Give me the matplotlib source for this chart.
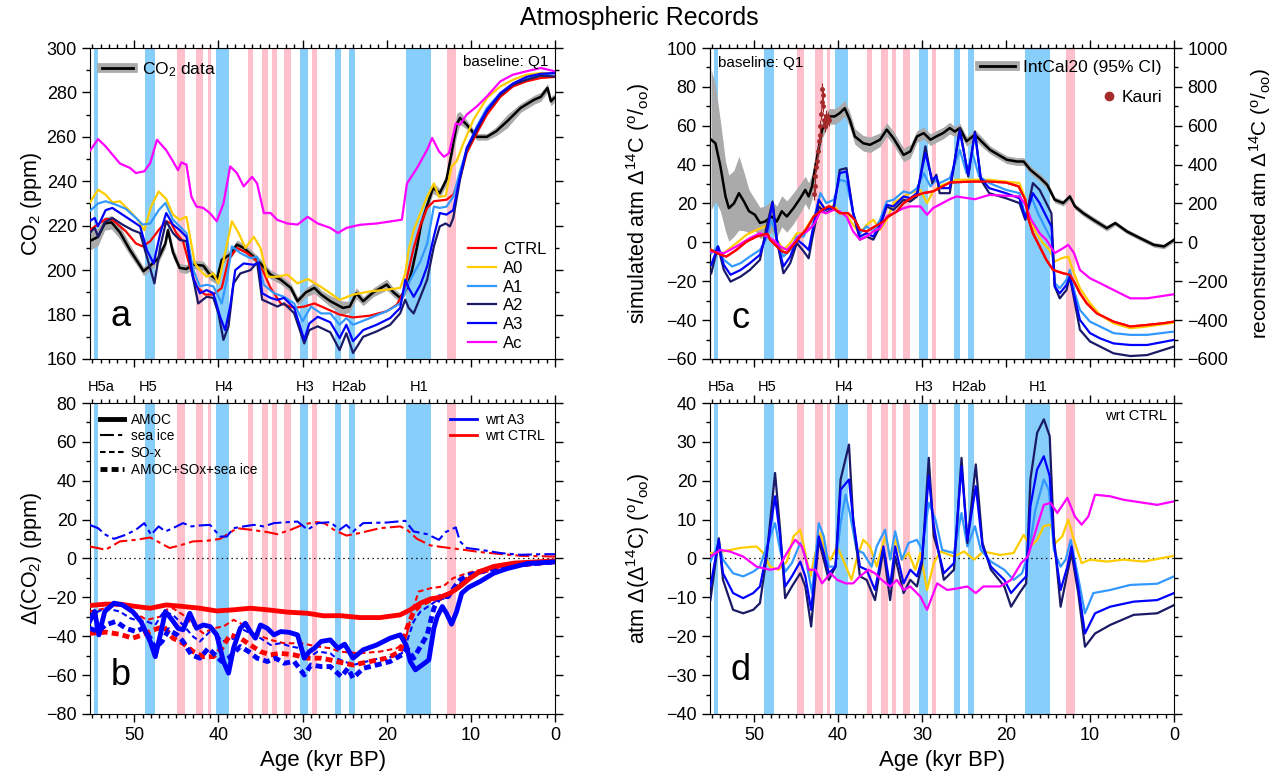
import matplotlib
matplotlib.use('Agg')
import matplotlib.pyplot as plt
from matplotlib.lines import Line2D
from matplotlib.ticker import MultipleLocator
import numpy as np

plt.rcParams['font.family'] = ['Liberation Sans', 'DejaVu Sans']
plt.rcParams['mathtext.default'] = 'regular'
plt.rcParams['lines.scale_dashes'] = False

# ---- event bands (kyr BP, start, end) ----
hs_bands = [(54.73, 54.33), (48.77, 47.58), (40.32, 38.77), (30.32, 29.33),
            (26.15, 25.44), (24.49, 23.81), (17.70, 14.73)]
pink_bands = [(44.88, 44.01), (42.70, 41.83), (41.27, 40.92), (36.51, 35.92),
              (34.85, 34.10), (33.62, 33.06), (32.26, 31.43), (28.86, 28.30),
              (12.82, 11.75)]
heinrich = [(53.9, 'H5a'), (48.4, 'H5'), (39.3, 'H4'), (29.7, 'H3'), (24.4, 'H2ab'), (16.2, 'H1')]

# ---- panel a: atmospheric CO2 (ppm) ----
co2_data = [(55.3, 213, 4), (54.3, 215, 4), (53.5, 221, 3), (52.7, 221.5, 3), (51.7, 217, 3),
            (50.5, 209, 2.5), (49.3, 202, 2), (48.9, 199.5, 2), (48.1, 202, 2), (47.1, 205.5, 2),
            (46.3, 212, 2), (46.0, 218, 2.5), (45.4, 208, 2.5), (44.6, 201, 2), (43.8, 200.5, 2),
            (43.0, 202.5, 2), (41.8, 202, 2), (41.0, 198, 2.5), (40.2, 195.7, 2), (39.6, 204.7, 2),
            (38.6, 207, 2), (37.8, 211.5, 2), (37.0, 210, 2), (35.8, 206, 2), (35.0, 203, 2),
            (33.8, 198, 2), (32.6, 195.7, 2), (31.4, 192, 2), (30.6, 186, 2), (29.6, 190, 2),
            (28.6, 192, 2.5), (27.8, 189, 2), (26.7, 186, 2.5), (25.2, 183, 3), (24.4, 183.6, 2.5),
            (23.6, 189.6, 2.5), (22.8, 186, 2), (21.6, 190, 2), (20.0, 193.5, 2.5), (19.2, 190, 2),
            (18.4, 187.5, 2), (17.6, 192, 2), (17.0, 200, 2), (16.4, 210.5, 2), (15.9, 221, 2),
            (15.3, 228, 2), (14.5, 237, 2.5), (13.7, 234.7, 2), (12.9, 240.8, 2.5), (12.3, 252.7, 3),
            (11.7, 265.5, 5), (11.3, 268.5, 3), (10.5, 265.5, 2), (9.3, 260, 1.5), (8.1, 260, 1.5),
            (7.0, 262.5, 2), (5.7, 267, 3), (4.1, 273, 2), (2.5, 276.7, 2), (1.7, 278, 2),
            (0.9, 282, 2), (0.5, 276, 2), (0.1, 277.5, 2)]

a_ctrl = [(55.3, 218), (53.4, 223), (52.6, 222.7), (51.0, 217.5), (49.8, 212), (49.0, 210.7),
          (48.1, 213), (47.1, 218), (46.2, 222), (45.6, 221), (45.0, 216.7), (44.2, 213),
          (43.4, 201.7), (42.6, 192.7), (41.6, 189), (40.6, 189), (39.6, 192), (38.8, 204.7),
          (37.8, 210), (36.6, 207.7), (35.4, 204), (34.6, 198.7), (33.8, 192), (32.6, 185),
          (31.0, 183), (29.8, 183.6), (28.6, 185), (27.4, 183), (25.6, 180), (24.0, 178.7),
          (22.0, 179.5), (20.0, 181.5), (18.8, 184.4), (18.0, 190), (17.4, 200), (16.8, 210),
          (16.0, 220.4), (15.2, 228), (14.4, 231), (12.9, 231.7), (12.1, 234), (11.3, 241.4),
          (10.5, 252.7), (9.3, 261.7), (8.1, 270), (6.5, 278), (5.0, 282.7), (3.4, 285),
          (1.7, 286.5), (0.0, 287)]
a_a0 = [(55.3, 230.2), (54.3, 236.2), (53.4, 234), (52.6, 230.5), (51.7, 231), (50.5, 226.5),
        (49.6, 222.7), (48.8, 218), (48.0, 228.6), (47.1, 235.4), (46.2, 232), (45.4, 225),
        (44.6, 222.7), (43.8, 224), (42.8, 203), (42.2, 200), (41.4, 197), (40.6, 198.5),
        (40.0, 194), (39.2, 207.7), (38.4, 222), (37.6, 216.7), (36.8, 210), (35.8, 215),
        (35.0, 210), (34.2, 197), (33.0, 197), (31.8, 198), (30.6, 194), (29.4, 196),
        (28.2, 193.4), (26.7, 189.6), (25.6, 186.6), (24.0, 189), (22.0, 190.4), (20.0, 191.2),
        (18.4, 192), (17.8, 198.5), (17.4, 209), (16.8, 218), (16.0, 225.6), (15.2, 233),
        (14.4, 239), (13.8, 233), (13.0, 233.4), (12.3, 246.7), (11.7, 249), (10.9, 257),
        (9.7, 267.7), (8.1, 277.5), (6.5, 282.7), (5.0, 285.7), (3.4, 288), (1.7, 288.7), (0.0, 288.7)]
a_a1 = [(55.3, 226.5), (54.3, 230), (53.4, 231), (52.2, 229.5), (51.0, 227.6), (49.8, 223.5),
        (49.0, 220.5), (48.1, 221), (47.1, 227), (46.3, 230.2), (45.4, 222.7), (44.6, 219.7),
        (43.8, 216.7), (43.0, 200.2), (42.2, 192.7), (41.4, 193.4), (40.6, 192.7), (39.6, 185),
        (39.0, 195.7), (38.4, 210.7), (37.4, 207.7), (36.2, 205.4), (35.4, 206), (34.6, 193.4),
        (33.4, 189.6), (32.2, 188), (31.0, 185), (30.0, 177), (29.0, 183.6), (27.8, 180.5),
        (26.7, 180.5), (25.6, 175.4), (24.8, 178.4), (24.0, 175.4), (22.0, 178.4), (20.0, 181.5),
        (18.4, 185), (17.6, 192.6), (16.8, 198.5), (16.0, 204), (15.2, 212), (14.4, 228.6),
        (13.7, 228), (12.9, 228.6), (12.1, 233), (11.3, 244.5), (10.5, 254), (9.3, 264.7),
        (8.1, 273), (6.5, 279.7), (5.0, 284), (3.4, 286.5), (1.7, 288), (0.0, 288.7)]
a_a2 = [(55.3, 216.7), (54.7, 219), (54.3, 215), (53.5, 221.5), (52.6, 223.5), (51.4, 220.5),
        (50.2, 218), (49.3, 216.7), (48.5, 206), (47.6, 194), (46.9, 210.7), (46.2, 222),
        (45.4, 216.7), (44.6, 213.6), (43.8, 213), (43.2, 200), (42.4, 185), (41.4, 188),
        (40.6, 187.5), (40.0, 180.5), (39.4, 168.6), (38.8, 174.7), (38.2, 194), (37.4, 198.5),
        (36.2, 200), (35.4, 203.4), (34.8, 186.7), (33.8, 185), (33.0, 183.6), (32.2, 185),
        (31.0, 180.6), (29.8, 167), (29.2, 173), (28.2, 174.7), (26.7, 172), (25.6, 164),
        (24.8, 171.6), (24.0, 162.7), (22.8, 170), (21.2, 172.4), (19.6, 175.4), (18.4, 180.6),
        (17.8, 186.7), (17.4, 183), (16.8, 180.5), (16.0, 188), (15.2, 195.7), (14.4, 210.7),
        (13.7, 219.7), (13.0, 221), (12.5, 219.7), (12.1, 223.4), (11.3, 240.7), (10.5, 254),
        (9.3, 263), (8.1, 271.5), (6.5, 279), (5.0, 283.5), (3.4, 285.7), (1.7, 287.5), (0.0, 287.2)]
a_a3 = [(55.3, 222), (54.7, 223.5), (54.3, 219.7), (53.4, 227), (52.6, 228), (51.4, 225),
        (50.2, 222), (49.3, 219.7), (48.5, 209), (47.7, 203), (46.9, 216.7), (46.2, 225.7),
        (45.4, 220.5), (44.6, 218), (43.8, 215), (43.0, 196.4), (42.2, 189.6), (41.4, 191),
        (40.6, 189.6), (39.8, 179), (39.2, 173), (38.6, 183.6), (38.0, 200), (37.0, 203),
        (35.8, 202.4), (35.2, 203.4), (34.8, 189.6), (33.8, 187.5), (33.0, 186.6), (32.2, 187.5),
        (31.0, 183), (29.8, 168.6), (29.2, 176), (28.2, 179), (26.7, 176.5), (25.6, 169.4),
        (24.8, 175.4), (24.0, 168), (22.8, 173), (21.2, 175.4), (19.6, 178.4), (18.4, 183),
        (17.8, 195.7), (17.4, 192), (16.8, 188), (16.0, 193.4), (15.2, 201.7), (14.4, 215.2),
        (13.7, 225.7), (12.9, 225), (12.1, 227), (11.3, 242), (10.5, 255), (9.3, 264),
        (8.1, 272), (6.5, 279.7), (5.0, 284), (3.4, 287), (1.7, 288.4), (0.0, 288.7)]
a_ac = [(55.3, 253.5), (54.3, 259), (53.4, 255.7), (51.7, 248), (50.5, 246), (49.8, 243.7),
        (48.8, 244.5), (48.1, 248.2), (47.3, 258.7), (46.2, 254), (45.4, 249), (44.8, 245),
        (44.4, 248.5), (43.8, 247.5), (43.2, 233), (42.6, 228.6), (41.8, 228), (41.0, 225.6),
        (40.2, 222), (39.4, 230), (38.6, 246.7), (37.8, 243.7), (37.0, 237.7), (36.0, 242),
        (35.4, 239), (34.6, 225.7), (33.8, 225.7), (33.0, 222.6), (31.8, 221), (30.6, 220.5),
        (29.4, 224), (28.2, 221), (26.7, 219), (25.8, 216.7), (24.8, 219), (23.2, 220.4),
        (21.2, 221), (18.2, 222.7), (17.6, 239), (16.4, 246), (15.2, 254.2), (14.6, 259.5),
        (13.8, 253.5), (13.2, 251), (12.6, 252.7), (11.8, 266), (11.3, 265.5), (10.5, 270),
        (9.3, 273.7), (8.1, 278.2), (6.5, 285), (5.0, 288), (3.4, 289.5), (1.7, 291), (0.0, 289.5)]

# ---- panel b: CO2 anomalies (ppm) ----
b_amoc_a3 = [(55.3, -32.4), (54.7, -27.3), (54.2, -39.3), (53.5, -27.3), (52.4, -23), (51.4, -23.9),
             (50.2, -27.3), (49.2, -32.4), (48.1, -42.7), (47.5, -50.5), (46.9, -39.3), (46.3, -27.3),
             (45.5, -31.6), (44.8, -35.9), (44.2, -36.7), (43.4, -28.2), (42.6, -35.9), (41.8, -34.2),
             (41.0, -35), (40.2, -39.3), (39.4, -53), (38.8, -59), (38.2, -46.1), (37.4, -35.9),
             (36.8, -33.3), (36.2, -37.6), (35.6, -41), (35.0, -34.2), (34.2, -35.9), (33.4, -39.3),
             (32.6, -37.6), (31.6, -38), (30.6, -39.3), (29.8, -51.3), (29.2, -47.9), (28.6, -46.2),
             (27.8, -42.7), (26.7, -41.9), (25.8, -46.2), (25.0, -44.1), (24.0, -51.3), (22.8, -47),
             (21.2, -44.5), (19.6, -41), (18.4, -39.3), (17.7, -44.5), (17.2, -53), (16.6, -57.3),
             (15.8, -54.8), (15.0, -52.2), (14.4, -35.9), (14.0, -29.9), (13.4, -24.7), (12.9, -28.2),
             (12.3, -33.8), (11.7, -27.3), (11.1, -17.9), (10.3, -14.9), (8.9, -11.8), (7.3, -7.6),
             (5.7, -5.2), (3.3, -2.6), (0.0, -1.7)]
b_amoc_ctrl = [(55.3, -24.2), (53.4, -23.5), (51.7, -23.5), (49.8, -24.7), (48.1, -25.6), (46.2, -23.9),
               (44.2, -24.7), (42.2, -25.6), (40.2, -27), (38.2, -26.4), (36.2, -25.6), (34.2, -26.4),
               (31.8, -27.6), (29.4, -28.2), (27.5, -29.5), (25.6, -29.4), (23.2, -30.4), (20.8, -30.4),
               (18.4, -29), (17.2, -26.4), (16.0, -23), (14.8, -20.8), (13.7, -20), (12.5, -17.9),
               (11.3, -14.4), (10.1, -10.1), (8.9, -6.7), (7.3, -4.1), (4.9, -2.4), (0.0, -1.2)]
b_seaice_a3 = [(55.3, 17.3), (54.3, 15.6), (53.4, 12.2), (52.4, 10.1), (51.0, 12.2), (49.8, 14.8),
               (48.8, 18.2), (48.0, 12.2), (47.1, 16.5), (46.3, 13.9), (45.4, 15.6), (44.2, 18.2),
               (43.2, 16.5), (42.2, 17), (41.0, 17.3), (39.8, 11.3), (39.0, 11.3), (38.2, 15.6),
               (37.0, 16.5), (35.8, 17.3), (34.6, 16.5), (33.4, 18.2), (31.8, 18.7), (30.6, 19),
               (29.4, 14.8), (28.2, 18.2), (26.7, 18.7), (25.6, 14.8), (24.8, 17.3), (24.0, 13.9),
               (22.8, 18.2), (20.0, 18.5), (17.8, 19.4), (16.8, 13.9), (15.2, 12.5), (13.8, 9.6),
               (13.0, 13.6), (11.8, 16), (11.3, 8.8), (10.5, 5.4), (8.9, 4.5), (6.5, 2.8),
               (4.1, 1.9), (1.7, 2.2), (0.0, 2.2)]
b_seaice_ctrl = [(55.3, 6.2), (53.4, 4.5), (51.7, 8.8), (49.8, 9.6), (48.1, 10.8), (46.9, 8),
                 (45.8, 5.4), (44.6, 6.7), (43.0, 8.8), (41.4, 9.1), (39.8, 10.1), (39.0, 12.2),
                 (37.8, 15.6), (36.2, 14.8), (34.2, 13.6), (33.0, 12.5), (31.4, 14.8), (29.8, 17.7),
                 (28.2, 18.7), (27.3, 17.9), (26.3, 14.8), (24.8, 11.8), (23.2, 13.1), (20.8, 15.6),
                 (18.4, 16.5), (17.6, 14.8), (16.4, 10.1), (14.8, 6.7), (12.9, 5.6), (10.9, 4.5),
                 (8.9, 3.3), (6.5, 2.3), (4.1, 1.4), (0.0, 1)]
b_sox_a3 = [(55.3, -30.7), (54.3, -27.3), (53.4, -25.6), (51.7, -27.3), (50.5, -30.7), (49.3, -32.4),
            (48.5, -32.4), (47.5, -34.2), (46.5, -27.3), (45.4, -29), (44.2, -34.2), (43.0, -40.2),
            (42.2, -42.7), (41.4, -39.3), (40.6, -35.9), (39.6, -42.7), (38.8, -41.9), (38.0, -41),
            (37.4, -35.9), (36.2, -38.5), (35.0, -41), (33.8, -44.5), (32.6, -43.6), (31.4, -45.3),
            (30.2, -46.2), (29.4, -51.3), (28.2, -47.9), (26.7, -48.8), (26.0, -51.3), (24.0, -54.8),
            (22.4, -53), (20.8, -51.3), (19.2, -50.5), (18.2, -48.8), (17.6, -42.7), (16.8, -32.4),
            (16.0, -27.3), (14.8, -23.9), (14.0, -21.3), (12.9, -20.4), (12.1, -15.3), (11.3, -12.8),
            (10.1, -9.4), (8.1, -6), (5.7, -3.3), (0.0, -1.2)]
b_sox_ctrl = [(55.3, -27.3), (53.4, -25.6), (51.7, -23.9), (50.2, -27.3), (48.5, -31.6), (46.9, -29.9),
              (46.2, -26.4), (45.4, -25.6), (44.2, -29), (43.0, -34.2), (41.8, -38.5), (40.6, -35.9),
              (39.4, -35), (38.2, -31.6), (37.0, -34.2), (35.4, -39.3), (33.8, -41.9), (32.2, -43.6),
              (30.2, -43.6), (28.2, -45.3), (26.7, -46.2), (25.6, -47.9), (23.2, -48.8), (20.8, -47.9),
              (18.8, -46.2), (17.8, -42.7), (17.0, -27.3), (16.2, -17), (14.8, -15.3), (13.3, -14.4),
              (12.1, -10.1), (10.5, -7.6), (8.1, -5), (4.1, -2.9), (0.0, -1.2)]
b_all_a3 = [(55.3, -35.9), (54.3, -37.6), (53.4, -34.2), (52.2, -32.4), (51.0, -35.9), (49.8, -37.6),
            (49.0, -35.9), (48.1, -41), (47.5, -46.2), (46.7, -42.7), (45.9, -36.7), (44.9, -39.3),
            (44.2, -42.7), (43.2, -49.6), (42.2, -51.3), (41.2, -46.2), (40.4, -49.6), (39.6, -53),
            (38.8, -51.3), (38.0, -47.9), (37.4, -45.3), (36.4, -47.9), (35.4, -51.3), (34.2, -53),
            (33.2, -51.3), (32.2, -53.9), (31.0, -53), (29.8, -59.9), (29.0, -54.8), (27.8, -55.6),
            (26.7, -55.6), (25.4, -60.8), (24.6, -56.5), (24.0, -61.6), (22.8, -56.5), (21.2, -54.8),
            (19.6, -53), (18.2, -49.6), (17.6, -46.2), (16.8, -51.3), (16.0, -45.3), (15.2, -39.3),
            (14.4, -25.6), (13.7, -19.6), (12.7, -19.6), (11.9, -14.4), (11.3, -11), (10.1, -8.4),
            (8.1, -6), (5.7, -3.8), (0.0, -1.7)]
b_all_ctrl = [(55.3, -38.5), (53.4, -37.9), (51.7, -39), (50.2, -41), (49.0, -39.3), (47.7, -36.7),
              (46.5, -35), (45.4, -41), (44.2, -43.6), (43.0, -47.9), (41.8, -50.5), (40.6, -50.5),
              (39.6, -46.2), (38.6, -39.3), (37.4, -41), (36.2, -44.5), (35.0, -47.9), (33.8, -49.6),
              (32.6, -48.8), (31.0, -49.6), (29.4, -51.3), (27.8, -51.3), (26.7, -52.2), (26.0, -53),
              (24.0, -54.8), (22.0, -53), (20.0, -51.3), (18.4, -47.9), (17.6, -35.9), (16.8, -27.3),
              (16.0, -23.9), (14.8, -21.3), (13.3, -20.4), (12.1, -17), (10.9, -11.8), (9.3, -7.6),
              (6.5, -4.1), (0.0, -1.7)]

# ---- panel c: atmospheric D14C (permil) ----
intcal20 = [(55.1, 528, 360), (54.6, 510, 300), (54.0, 390, 230), (53.4, 236, 180), (53.0, 176, 170),
            (52.4, 200, 170), (51.8, 253, 190), (51.2, 210, 150), (50.6, 160, 110), (49.9, 142, 80),
            (49.3, 100, 80), (48.7, 107, 80), (47.9, 133, 80), (47.3, 107, 80), (46.7, 160, 80),
            (46.1, 133, 80), (45.3, 176, 80), (44.5, 227, 75), (43.9, 270, 70), (43.5, 236, 70),
            (43.1, 288, 65), (42.7, 390, 60), (41.9, 580, 45), (41.1, 648, 40), (40.4, 648, 40),
            (39.8, 665, 40), (39.2, 690, 40), (38.6, 630, 40), (38.0, 545, 40), (37.0, 510, 40),
            (36.2, 502, 40), (35.0, 528, 35), (34.2, 580, 35), (33.4, 536, 35), (32.2, 450, 35),
            (31.4, 468, 35), (30.6, 545, 30), (29.8, 562, 30), (29.0, 528, 30), (28.3, 545, 30),
            (27.5, 562, 30), (26.7, 588, 30), (26.1, 570, 25), (25.5, 588, 25), (24.7, 520, 25),
            (23.7, 554, 25), (22.7, 510, 25), (21.9, 476, 20), (20.9, 450, 20), (19.9, 425, 20),
            (18.7, 416, 20), (17.9, 416, 20), (17.1, 373, 20), (15.9, 330, 20), (15.1, 296, 20),
            (14.2, 219, 15), (13.2, 202, 15), (12.4, 236, 15), (11.8, 185, 15), (10.8, 150, 15),
            (9.6, 116, 15), (8.0, 73, 15), (7.0, 99, 12), (5.6, 56, 12), (4.0, 21, 12),
            (2.4, -13, 12), (1.2, -21, 12), (0.0, 13, 12)]
kauri = [(42.9, 250, 30), (42.8, 290, 30), (42.7, 340, 30), (42.6, 390, 30), (42.5, 420, 30),
         (42.4, 470, 30), (42.3, 520, 30), (42.2, 550, 30), (42.1, 600, 30), (42.0, 660, 30),
         (41.95, 720, 30), (41.9, 790, 30), (41.85, 760, 30), (41.8, 700, 30), (41.7, 630, 30),
         (41.6, 600, 30), (41.5, 610, 30), (41.4, 650, 30), (41.3, 620, 30), (41.2, 640, 30),
         (41.1, 630, 30)]

c_ctrl = [(55.1, -3.9), (54.0, -6.4), (53.3, -7.3), (52.1, -3.9), (50.9, 0.4), (49.7, 3), (48.9, 3.9),
          (48.4, 4.5), (48.1, 1.4), (47.3, -2.1), (46.7, -4.6), (46.1, -5.5), (45.3, -1.3), (44.5, 3),
          (43.7, 7.3), (42.9, 13.3), (41.9, 16.7), (41.1, 18.5), (40.5, 17.6), (39.8, 15), (38.8, 15),
          (38.0, 11.6), (37.4, 6.4), (36.6, 5.6), (35.6, 8.2), (34.6, 10.7), (34.0, 13.3), (33.0, 15.9),
          (32.2, 20.2), (31.0, 23.6), (29.9, 25.3), (28.7, 26.2), (27.9, 28), (26.7, 30.8), (24.0, 31.3),
          (22.0, 31.3), (20.0, 30.8), (18.5, 28.8), (17.7, 21.9), (17.3, 11.6), (16.8, 4.7), (16.0, -2.1),
          (15.2, -9), (14.4, -14.2), (13.2, -15.9), (12.4, -16.7), (11.8, -21), (11.2, -26.2),
          (10.4, -31.3), (9.2, -36.5), (7.2, -40.8), (5.2, -43.3), (3.2, -42.5), (1.2, -41.6), (0.0, -40.8)]
c_a0 = [(55.1, -3.9), (53.6, -5.5), (52.1, -0.4), (50.9, 3.9), (49.7, 6.4), (48.7, 8.2), (47.9, 10.7),
        (47.3, 1.4), (46.5, -3.9), (45.7, -0.4), (44.9, 4.7), (44.1, 4.7), (43.7, 8.2), (42.9, 13.3),
        (42.1, 20.2), (41.4, 16.7), (40.5, 19.3), (39.8, 15), (39.0, 14.2), (38.2, 9), (37.4, 4.7),
        (36.6, 9), (35.8, 11.6), (35.0, 6.4), (34.2, 11.6), (33.4, 20.2), (32.2, 23.6), (31.4, 25.3),
        (30.2, 27), (29.4, 20.2), (28.7, 26.2), (27.9, 29), (25.9, 32.2), (24.0, 32.2), (22.0, 32.2),
        (20.0, 31.3), (18.4, 30.5), (17.8, 23.6), (17.1, 11.6), (16.4, 4.7), (15.6, -0.4), (14.8, -3.9),
        (14.2, -9.9), (13.4, -8.2), (12.6, -7.3), (11.9, -15.9), (11.2, -23.6), (10.0, -31.3),
        (8.8, -37.3), (7.2, -41.6), (5.2, -44.2), (3.2, -43.3), (0.0, -41.3)]
c_a1 = [(55.1, -5.6), (54.3, -2.1), (53.6, -9), (52.6, -12.4), (51.6, -10.7), (50.5, -7.3), (49.3, -3.9),
        (48.5, 2.2), (47.9, 11.6), (47.3, 1.4), (46.5, -7.3), (45.7, -3.9), (44.9, 3), (44.1, 3),
        (43.7, 6.4), (43.1, 8.2), (42.1, 25.3), (41.4, 20.2), (40.5, 21.9), (39.8, 32.2), (39.0, 31.3),
        (38.2, 15), (37.4, 4.7), (36.6, 8.2), (35.8, 5.6), (35.0, 11.6), (34.2, 21), (33.4, 21.9),
        (32.2, 26.2), (31.4, 25.3), (30.6, 27.9), (29.8, 35.6), (29.0, 28.8), (28.3, 32.2), (27.9, 30.5),
        (26.7, 33), (25.5, 47.6), (24.7, 35.6), (24.0, 46), (23.2, 33.9), (22.0, 30.5), (20.0, 27),
        (18.4, 25.3), (17.7, 13.3), (17.0, 23.6), (16.2, 15), (15.2, 6.4), (14.6, 1.2), (14.2, -21),
        (13.6, -23.6), (12.8, -19.3), (12.4, -14.2), (11.8, -26.2), (11.2, -34.8), (10.0, -40.8),
        (8.8, -43.3), (7.2, -46.7), (5.2, -47.6), (3.2, -47.6), (0.0, -45.9)]
c_a2 = [(55.1, -15.9), (54.3, -2.1), (53.6, -14.2), (52.8, -20.2), (51.6, -17.6), (50.5, -14.2),
        (49.3, -9), (48.5, 8.2), (47.8, 21), (47.3, 1.4), (46.5, -15.9), (45.7, -10.7), (44.9, -0.4),
        (44.1, -4.6), (43.5, -8.2), (43.1, 1.4), (42.3, 18.5), (41.5, 15), (40.5, 17.6), (39.8, 37.3),
        (39.0, 38.2), (38.2, 15), (37.4, 1.4), (36.6, 3), (35.8, 1.4), (35.0, 8.2), (34.2, 18.5),
        (33.4, 16.7), (32.2, 21.9), (31.4, 21), (30.6, 23.6), (29.6, 49.4), (28.8, 30.5), (28.3, 34.8),
        (27.9, 25.3), (26.7, 25.3), (25.5, 58.8), (24.5, 33.9), (23.7, 57), (23.0, 32.2), (22.0, 25.3),
        (20.0, 22.7), (18.4, 20.2), (17.7, 11.6), (16.8, 30.5), (16.0, 27), (15.2, 20.2), (14.6, 15),
        (14.2, -22.7), (13.6, -28.8), (12.8, -24.5), (12.4, -17.6), (11.8, -31.3), (11.2, -45),
        (10.0, -51), (8.8, -53.6), (7.2, -57.1), (5.2, -58.5), (3.2, -58), (0.0, -53.6)]
c_a3 = [(55.1, -11.6), (54.3, -2.1), (53.6, -11.6), (52.8, -16.7), (51.6, -14.2), (50.5, -10.7),
        (49.3, -6.4), (48.5, 4.7), (47.8, 20.2), (47.3, 1.4), (46.5, -12.4), (45.7, -7.3), (44.9, 1.4),
        (44.1, -1.3), (43.5, -3.9), (43.1, 4.7), (42.3, 21.9), (41.5, 16.7), (40.5, 18.5), (39.8, 35.6),
        (39.0, 36.5), (38.2, 15), (37.4, 3), (36.6, 4.7), (35.8, 3), (35.0, 9), (34.2, 19.3),
        (33.4, 18.5), (32.2, 23.6), (31.4, 22.7), (30.6, 25.3), (29.6, 46), (28.8, 32.2), (28.3, 33.9),
        (27.9, 27.9), (26.7, 27.9), (25.5, 57), (24.5, 34.8), (23.7, 56.2), (23.0, 33), (22.0, 27.9),
        (20.0, 25.3), (18.4, 22.7), (17.7, 12.4), (16.8, 25.3), (16.0, 20.2), (15.2, 13.3), (14.6, 8.2),
        (14.2, -22.7), (13.6, -26.2), (12.8, -21.9), (12.4, -17.6), (11.8, -28.8), (11.2, -39.9),
        (10.0, -46.7), (8.8, -49.4), (7.2, -52), (5.2, -52.8), (3.2, -52.8), (0.0, -50.2)]
c_ac = [(55.1, -4.7), (53.6, -5.6), (52.1, -2.1), (50.5, 2.2), (49.3, 4.7), (48.5, 3), (47.7, 1.3),
        (46.9, -2.1), (46.1, -3.9), (45.3, -0.4), (44.5, 3.9), (43.7, 5.6), (42.9, 9), (42.1, 15.9),
        (41.4, 15), (40.5, 16.7), (39.8, 15.9), (39.0, 13.3), (38.2, 5.6), (37.4, 1.4), (36.6, 3),
        (35.8, 5.6), (35.0, 7.3), (34.2, 13.3), (33.4, 15), (32.2, 17.6), (31.4, 18.5), (30.2, 18.5),
        (29.4, 14.2), (28.7, 17.6), (26.7, 22.2), (25.9, 23.6), (23.7, 22.2), (22.0, 24.4), (20.0, 24),
        (18.4, 23.6), (17.8, 20.2), (17.0, 11.6), (16.0, 4.7), (15.2, 1.3), (14.2, -5.5), (13.2, -3),
        (12.6, -1.3), (11.9, -5.5), (11.2, -14.2), (10.0, -18.5), (8.8, -21), (7.2, -24.5),
        (5.2, -28.8), (3.2, -28.8), (0.0, -26.7)]

# ---- panel d: D14C anomalies wrt CTRL (permil) ----
d_a0 = [(55.2, 1.4), (53.7, 1.8), (51.7, 2.7), (49.7, 3.1), (48.9, 1.4), (48.1, -2.1), (47.1, -2.9),
        (46.1, -0.8), (45.3, 5.7), (44.5, 7.4), (43.9, 1.4), (43.3, -4.6), (42.7, 1.4), (42.1, 6.5),
        (41.5, 1.4), (40.9, -0.3), (40.1, 3.1), (39.4, -0.3), (38.4, -5.5), (37.8, -0.3), (37.0, 4.8),
        (36.2, 3.1), (35.4, -2.1), (34.4, 5.7), (33.8, 0.5), (33.2, 4.8), (32.4, -0.3), (31.6, 1.4),
        (30.8, -2.9), (30.2, 1.4), (29.4, -8.1), (28.6, -1.2), (27.8, 1.8), (26.2, 0.5), (25.0, 1.8),
        (23.8, -0.3), (22.7, 1.8), (20.7, 0.9), (19.1, 1.4), (17.9, 6.1), (17.1, 3.1), (16.3, 4.8),
        (15.5, 8.3), (14.7, 8.7), (14.1, 4), (13.3, 5.7), (12.6, 10), (11.8, 4), (11.0, -1.2),
        (10.0, -0.3), (8.0, -0.8), (6.0, -0.3), (3.6, -0.8), (0.0, 0.7)]
d_a1 = [(55.2, -0.8), (54.2, 4), (53.7, -0.3), (52.5, -3.8), (51.3, -4.6), (50.1, -3.4), (49.3, -2.1),
        (48.5, 3.1), (47.5, 9.1), (46.9, 2.2), (46.3, -3.4), (45.5, -1.2), (44.5, 4), (43.9, 0.5),
        (43.1, -8.9), (42.3, 9.1), (41.7, 5.7), (41.1, -2.1), (40.3, -2.1), (39.7, 9.1), (39.1, 16.4),
        (38.6, 11.7), (37.8, 2.2), (37.0, 1.4), (36.0, -2.1), (35.4, 3.1), (34.4, 7.4), (33.8, -0.3),
        (33.2, 7), (32.4, -0.3), (31.6, 4), (30.6, 4.8), (30.0, 2.2), (29.2, 14.3), (28.4, 10),
        (27.6, 2.2), (26.2, 1.4), (25.3, 11.7), (24.6, 3.1), (23.7, 8.3), (23.0, 2.2), (21.8, -0.8),
        (20.2, -2.9), (19.1, -5.5), (18.1, -3.8), (17.3, 1.4), (16.5, 12.6), (15.5, 20.3), (14.9, 17.7),
        (14.3, 2.2), (13.5, -2.1), (12.9, -0.3), (12.3, 4.8), (11.5, -3.8), (10.6, -14.1), (9.6, -8.9),
        (7.6, -8.1), (5.2, -6.8), (2.0, -6.5), (0.0, -4.6)]
d_a2 = [(55.2, -10.7), (54.2, 5.2), (53.7, -5.5), (52.5, -13.2), (51.3, -14.1), (50.1, -13.2),
        (49.3, -11.5), (48.5, 0.5), (47.5, 22), (46.9, 7.4), (46.3, -10.2), (45.5, -7.2), (44.5, -3.8),
        (43.9, -7.2), (43.2, -17.5), (42.3, 4.8), (41.7, -0.3), (41.1, -5.5), (40.3, -2.1), (39.7, 20.3),
        (38.7, 29.3), (38.2, 10), (37.4, -4.6), (36.6, -5.5), (35.6, -10.7), (34.6, 2.2), (33.8, -10.7),
        (33.2, 0.5), (32.2, -8.9), (31.4, -5.5), (30.6, -7.2), (30.0, -1.2), (29.2, 25.9), (28.6, 5.7),
        (28.0, 1.4), (27.4, -5.5), (26.2, -2.9), (25.3, 25.9), (24.6, 4), (23.6, 24.2), (22.8, 4),
        (21.8, -2.9), (20.2, -7.2), (19.4, -12.4), (18.4, -8.9), (17.6, -6.4), (17.1, 20.3),
        (16.3, 32.3), (15.5, 35.8), (14.8, 31.5), (14.3, 5.7), (13.5, -12.4), (12.7, -3.8),
        (12.2, 1.4), (11.4, -8.9), (10.6, -22.7), (9.4, -19.3), (7.6, -17.1), (4.8, -14.5),
        (2.0, -14.1), (0.0, -12)]
d_a3 = [(55.2, -7.2), (54.2, 4.8), (53.7, -3.8), (52.5, -8.9), (51.3, -10.2), (50.1, -8.9),
        (49.3, -7.2), (48.5, 1.4), (47.5, 16), (46.9, 5.7), (46.3, -7.2), (45.5, -4.6), (44.5, -0.8),
        (43.9, -4.6), (43.2, -13.2), (42.3, 5.7), (41.7, 1.4), (41.1, -3.8), (40.3, -2.1), (39.7, 17.7),
        (38.7, 20.3), (38.2, 10), (37.4, -2.1), (36.6, -2.9), (35.6, -8.1), (34.6, 3.1), (33.8, -7.2),
        (33.2, 3.1), (32.2, -6.4), (31.4, -2.9), (30.6, -4.6), (30.0, -0.3), (29.2, 21.2), (28.6, 8.3),
        (28.0, 1.4), (27.4, -3.8), (26.2, -1.2), (25.3, 23.7), (24.6, 4.8), (23.6, 18.6), (22.8, 3.1),
        (21.8, -2.1), (20.2, -5.5), (19.4, -8.9), (18.4, -6.4), (17.6, -4.6), (17.1, 13.4),
        (16.3, 22.9), (15.5, 26.3), (14.8, 21.2), (14.3, 4), (13.5, -8.1), (12.7, -2.1), (12.2, 3.1),
        (11.4, -7.2), (10.6, -19.3), (9.4, -14.1), (7.6, -12.4), (4.8, -11.1), (2.0, -10.7), (0.0, -8.9)]
d_ac = [(55.2, 0.5), (54.0, 2.2), (52.9, 1.8), (51.3, 0.5), (49.7, -2.1), (48.9, -2.5), (48.1, -2.9),
        (47.1, -2.5), (46.1, 1.4), (45.1, 4.8), (44.3, 3.1), (43.5, -2.9), (42.7, -2.9), (41.9, -6.4),
        (40.9, -3.8), (40.1, -5.5), (39.1, -6.4), (38.2, -6.4), (37.4, -4.6), (36.4, -2.9), (35.6, -3.8),
        (34.8, -5.5), (33.8, -7.2), (33.0, -5.5), (32.2, -8.1), (31.4, -7.2), (30.2, -9.8), (29.4, -13.2),
        (28.2, -6.4), (27.0, -8.1), (25.8, -7.7), (24.6, -7.2), (23.6, -8.9), (22.7, -7.2), (20.7, -7.2),
        (19.4, -5.5), (18.2, -1.2), (17.4, 0.5), (16.3, 8.3), (15.5, 13.8), (14.7, 14.3), (13.9, 11.7),
        (12.7, 15.6), (11.8, 10.8), (11.0, 8.7), (10.2, 10.8), (9.4, 16.4), (7.6, 16), (6.0, 15.1),
        (2.0, 13.8), (0.0, 14.7)]

colors = {'CTRL': '#ff0000', 'A0': '#ffcc00', 'A1': '#3399ff',
          'A2': '#1a1a66', 'A3': '#0000ff', 'Ac': '#ff00ff'}


def cols(rows):
    arr = np.array(rows, dtype=float)
    return [arr[:, i] for i in range(arr.shape[1])]


def add_bands(ax):
    for start, end in hs_bands:
        ax.axvspan(end, start, color='#87cefa', lw=0, zorder=0)
    for start, end in pink_bands:
        ax.axvspan(end, start, color='#ffc0cb', lw=0, zorder=0)


def style_axis(ax, ylim, major, minor, bottom):
    ax.set_xlim(55.25, 0)
    ax.set_ylim(*ylim)
    ax.xaxis.set_major_locator(MultipleLocator(10))
    ax.xaxis.set_minor_locator(MultipleLocator(1))
    ax.yaxis.set_major_locator(MultipleLocator(major))
    ax.yaxis.set_minor_locator(MultipleLocator(minor))
    ax.tick_params(which='both', direction='out', top=True, right=True, labelsize=13, width=1)
    ax.tick_params(which='major', length=6)
    ax.tick_params(which='minor', length=3)
    if bottom:
        ax.set_xlabel('Age (kyr BP)', fontsize=16)
        for age, name in heinrich:
            ax.annotate(name, xy=(age, 1), xycoords=('data', 'axes fraction'),
                        xytext=(0, 9), textcoords='offset points',
                        ha='center', va='baseline', fontsize=10.5)
    else:
        ax.tick_params(labelbottom=False)


fig = plt.figure(figsize=(12.79, 7.78), dpi=100)
ax_a = fig.add_axes([0.0704, 0.5386, 0.3636, 0.3997])
ax_b = fig.add_axes([0.0704, 0.0823, 0.3636, 0.3997])
ax_c = fig.add_axes([0.5551, 0.5386, 0.3628, 0.3997])
ax_d = fig.add_axes([0.5551, 0.0823, 0.3628, 0.3997])

fig.text(0.5, 1 - 18 / 778, 'Atmospheric Records', ha='center', va='center', fontsize=18)

# ---------- panel a ----------
add_bands(ax_a)
age, val, err = cols(co2_data)
ax_a.fill_between(age, val - err, val + err, color='#aaaaaa', lw=0, zorder=1)
ax_a.plot(age, val, color='k', lw=1.8, zorder=2)
for name, series in [('CTRL', a_ctrl), ('A0', a_a0), ('A1', a_a1),
                     ('A2', a_a2), ('A3', a_a3), ('Ac', a_ac)]:
    x, y = cols(series)
    ax_a.plot(x, y, color=colors[name], lw=1.6, label=name, zorder=3)
style_axis(ax_a, (160, 300), 20, 10, False)
ax_a.set_ylabel('CO$_2$ (ppm)', fontsize=15.5)
ax_a.yaxis.set_label_coords(-0.098, 0.5)
leg = ax_a.legend(loc='lower right', frameon=False, fontsize=12, handlelength=1.7,
                  labelspacing=0.22, borderaxespad=0.1, handletextpad=0.45)
ax_a.add_artist(leg)
data_handle = (Line2D([], [], color='#aaaaaa', lw=7), Line2D([], [], color='k', lw=2))
ax_a.legend([data_handle], ['CO$_2$ data'], loc='upper left', frameon=False, fontsize=12.5,
            handlelength=1.8, borderaxespad=0.3, handletextpad=0.5)
ax_a.text(0.985, 0.955, 'baseline: Q1', transform=ax_a.transAxes, ha='right', va='center', fontsize=11)
ax_a.text(0.066, 0.135, 'a', transform=ax_a.transAxes, ha='center', va='center', fontsize=26)

# ---------- panel b ----------
add_bands(ax_b)
ax_b.axhline(0, color='k', ls=(0, (1, 2.5)), lw=0.9, zorder=1)
seaice_dash = (0, (10, 3, 3, 3))
sox_dash = (0, (4, 2.5))
all_dash = (0, (5, 3))
for series, color in [(b_seaice_ctrl, 'r'), (b_seaice_a3, 'b')]:
    x, y = cols(series)
    ax_b.plot(x, y, color=color, lw=1.5, ls=seaice_dash, zorder=3)
for series, color in [(b_sox_ctrl, 'r'), (b_sox_a3, 'b')]:
    x, y = cols(series)
    ax_b.plot(x, y, color=color, lw=1.5, ls=sox_dash, zorder=3)
for series, color in [(b_all_ctrl, 'r'), (b_all_a3, 'b')]:
    x, y = cols(series)
    ax_b.plot(x, y, color=color, lw=3.5, ls=all_dash, zorder=3)
for series, color in [(b_amoc_ctrl, 'r'), (b_amoc_a3, 'b')]:
    x, y = cols(series)
    ax_b.plot(x, y, color=color, lw=3.5, zorder=4)
style_axis(ax_b, (-80, 80), 20, 10, True)
ax_b.set_ylabel('Δ(CO$_2$) (ppm)', fontsize=15.5)
ax_b.yaxis.set_label_coords(-0.098, 0.5)
style_handles = [Line2D([], [], color='k', lw=3.5),
                 Line2D([], [], color='k', lw=1.5, ls=seaice_dash),
                 Line2D([], [], color='k', lw=1.5, ls=sox_dash),
                 Line2D([], [], color='k', lw=3.5, ls=all_dash)]
leg = ax_b.legend(style_handles, ['AMOC', 'sea ice', 'SO-x', 'AMOC+SOx+sea ice'],
                  loc='upper left', frameon=False, fontsize=9.8, handlelength=1.8,
                  labelspacing=0.2, borderaxespad=0.3, handletextpad=0.5)
ax_b.add_artist(leg)
ax_b.legend([Line2D([], [], color='b', lw=2), Line2D([], [], color='r', lw=2)],
            ['wrt A3', 'wrt CTRL'], loc='upper right', frameon=False, fontsize=10.2,
            handlelength=1.9, labelspacing=0.15, borderaxespad=0.3, handletextpad=0.6)
ax_b.text(0.066, 0.125, 'b', transform=ax_b.transAxes, ha='center', va='center', fontsize=26)

# ---------- panel c ----------
twin = ax_c.twinx()
ax_c.set_zorder(twin.get_zorder() + 1)
ax_c.patch.set_visible(False)
add_bands(twin)
age, val, err = cols(intcal20)
twin.fill_between(age, val - err, val + err, color='#aaaaaa', lw=0, zorder=1)
twin.plot(age, val, color='k', lw=1.8, zorder=2)
k_age, k_val, k_err = cols(kauri)
twin.errorbar(k_age, k_val, yerr=k_err, fmt='o', ms=2.5, color='#a52a2a',
              ecolor='#a52a2a', elinewidth=0.8, capsize=0, zorder=3)
for name, series in [('CTRL', c_ctrl), ('A0', c_a0), ('A1', c_a1),
                     ('A2', c_a2), ('A3', c_a3), ('Ac', c_ac)]:
    x, y = cols(series)
    ax_c.plot(x, y, color=colors[name], lw=1.6, zorder=3)
# CTRL drawn on top as in the original
x, y = cols(c_ctrl)
ax_c.plot(x, y, color=colors['CTRL'], lw=1.6, zorder=4)
style_axis(ax_c, (-60, 100), 20, 10, False)
ax_c.tick_params(which='both', right=False)
twin.set_ylim(-600, 1000)
twin.yaxis.set_major_locator(MultipleLocator(200))
twin.yaxis.set_minor_locator(MultipleLocator(100))
twin.tick_params(which='both', direction='out', labelsize=13, width=1)
twin.tick_params(which='major', length=6)
twin.tick_params(which='minor', length=3)
ax_c.set_ylabel('simulated atm Δ$^{14}$C ($^{o}$/$_{oo}$)', fontsize=15.5)
ax_c.yaxis.set_label_coords(-0.125, 0.5)
twin.set_ylabel('reconstructed atm Δ$^{14}$C ($^{o}$/$_{oo}$)', fontsize=15)
twin.yaxis.set_label_coords(1.158, 0.5)
leg = ax_c.legend([(Line2D([], [], color='#aaaaaa', lw=7), Line2D([], [], color='k', lw=2))],
                  ['IntCal20 (95% CI)'], loc='upper right', frameon=False, fontsize=12.5,
                  handlelength=2.0, borderaxespad=0.3, handletextpad=0.5)
ax_c.add_artist(leg)
ax_c.legend([Line2D([], [], color='#a52a2a', marker='o', ms=6, ls='none')], ['Kauri'],
            loc='upper right', bbox_to_anchor=(1.0, 0.905), frameon=False, fontsize=12.5,
            handlelength=0.6, borderaxespad=0.3, handletextpad=0.4)
ax_c.text(0.018, 0.952, 'baseline: Q1', transform=ax_c.transAxes, ha='left', va='center', fontsize=11)
ax_c.text(0.066, 0.13, 'c', transform=ax_c.transAxes, ha='center', va='center', fontsize=26)

# ---------- panel d ----------
add_bands(ax_d)
ax_d.axhline(0, color='k', ls=(0, (1, 2.5)), lw=0.9, zorder=1)
for name, series in [('A0', d_a0), ('A1', d_a1), ('A2', d_a2), ('A3', d_a3), ('Ac', d_ac)]:
    x, y = cols(series)
    ax_d.plot(x, y, color=colors[name], lw=1.6, zorder=3)
style_axis(ax_d, (-40, 40), 10, 5, True)
ax_d.set_ylabel('atm Δ(Δ$^{14}$C) ($^{o}$/$_{oo}$)', fontsize=15.5)
ax_d.yaxis.set_label_coords(-0.125, 0.5)
ax_d.text(0.985, 0.958, 'wrt CTRL', transform=ax_d.transAxes, ha='right', va='center', fontsize=10.5)
ax_d.text(0.066, 0.14, 'd', transform=ax_d.transAxes, ha='center', va='center', fontsize=26)

fig.savefig('out.png', dpi=100)
